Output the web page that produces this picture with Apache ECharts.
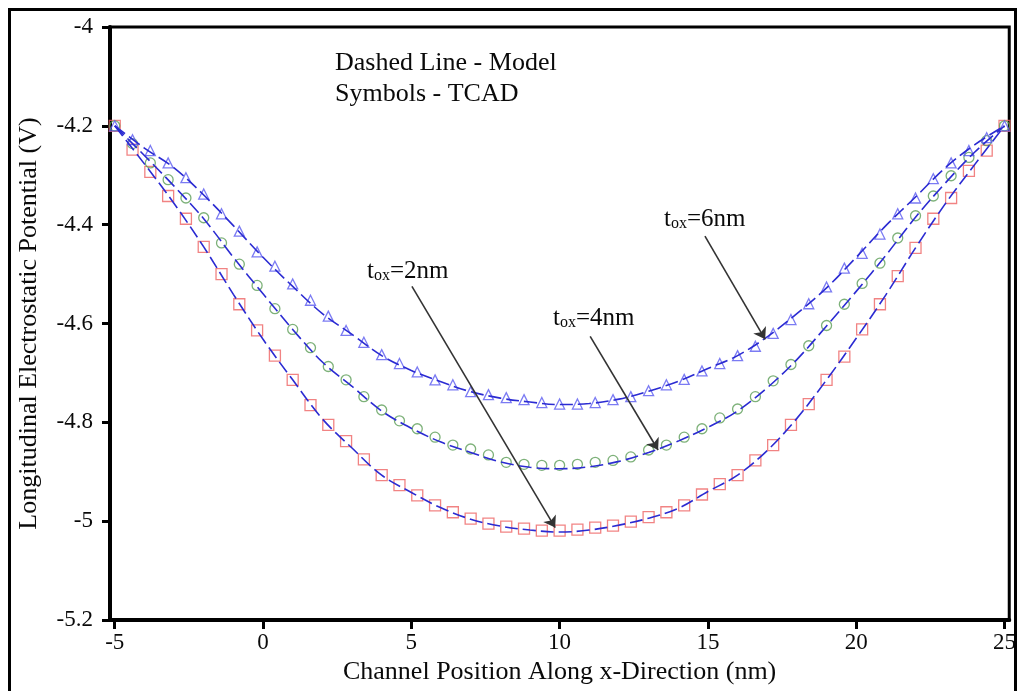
<!DOCTYPE html>
<html>
<head>
<meta charset="utf-8">
<script src="https://cdn.jsdelivr.net/npm/echarts@6/dist/echarts.min.js"></script>
<style>
  html, body { margin: 0; padding: 0; background: #fff; }
  #chart { width: 1019px; height: 691px; }
</style>
</head>
<body>
<div id="chart"></div>
<script>
// Channel positions (nm) of the TCAD samples
const xTcad = [-5, -4.4, -3.8, -3.2, -2.6, -2, -1.4, -0.8, -0.2, 0.4,
  1, 1.6, 2.2, 2.8, 3.4, 4, 4.6, 5.2, 5.8, 6.4,
  7, 7.6, 8.2, 8.8, 9.4, 10, 10.6, 11.2, 11.8, 12.4,
  13, 13.6, 14.2, 14.8, 15.4, 16, 16.6, 17.2, 17.8, 18.4,
  19, 19.6, 20.2, 20.8, 21.4, 22, 22.6, 23.2, 23.8, 24.4, 25];

// TCAD potential (V)
const tcadTox2 = [-4.200, -4.248, -4.293, -4.342, -4.388, -4.445, -4.500, -4.561, -4.614, -4.665,
  -4.714, -4.765, -4.805, -4.838, -4.875, -4.907, -4.927, -4.948, -4.968, -4.982,
  -4.995, -5.005, -5.011, -5.015, -5.019, -5.019, -5.017, -5.013, -5.009, -5.001,
  -4.992, -4.982, -4.968, -4.946, -4.925, -4.907, -4.877, -4.846, -4.805, -4.763,
  -4.714, -4.667, -4.612, -4.561, -4.504, -4.447, -4.388, -4.346, -4.291, -4.250, -4.200];
const tcadTox4 = [-4.200, -4.236, -4.275, -4.309, -4.346, -4.386, -4.437, -4.480, -4.523, -4.570,
  -4.612, -4.649, -4.687, -4.714, -4.748, -4.775, -4.797, -4.813, -4.830, -4.846,
  -4.854, -4.866, -4.881, -4.885, -4.887, -4.887, -4.885, -4.881, -4.877, -4.870,
  -4.856, -4.846, -4.830, -4.813, -4.791, -4.773, -4.748, -4.716, -4.683, -4.645,
  -4.604, -4.561, -4.519, -4.478, -4.427, -4.382, -4.342, -4.301, -4.264, -4.230, -4.200];
const tcadTox6 = [-4.200, -4.228, -4.250, -4.275, -4.305, -4.338, -4.378, -4.413, -4.455, -4.484,
  -4.520, -4.553, -4.585, -4.614, -4.638, -4.663, -4.681, -4.698, -4.714, -4.724,
  -4.738, -4.744, -4.750, -4.754, -4.760, -4.763, -4.763, -4.760, -4.754, -4.748,
  -4.736, -4.724, -4.713, -4.696, -4.681, -4.665, -4.646, -4.620, -4.592, -4.560,
  -4.526, -4.488, -4.458, -4.419, -4.378, -4.346, -4.307, -4.275, -4.250, -4.224, -4.200];

// Analytical model, sampled every 1 nm
const xModel = [-5, -4, -3, -2, -1, 0, 1, 2, 3, 4, 5, 6, 7, 8, 9, 10,
  11, 12, 13, 14, 15, 16, 17, 18, 19, 20, 21, 22, 23, 24, 25];
const modelTox2 = [-4.200, -4.277, -4.357, -4.445, -4.541, -4.632, -4.714, -4.793, -4.852, -4.907,
  -4.942, -4.973, -4.996, -5.010, -5.018, -5.022, -5.018, -5.008, -4.994, -4.974,
  -4.940, -4.907, -4.857, -4.792, -4.714, -4.630, -4.542, -4.447, -4.358, -4.278, -4.200];
const modelTox4 = [-4.200, -4.260, -4.322, -4.388, -4.466, -4.540, -4.612, -4.678, -4.727, -4.777,
  -4.812, -4.840, -4.861, -4.880, -4.891, -4.894, -4.890, -4.879, -4.861, -4.838,
  -4.810, -4.777, -4.730, -4.673, -4.605, -4.535, -4.462, -4.385, -4.316, -4.253, -4.200];
const modelTox6 = [-4.200, -4.245, -4.285, -4.340, -4.402, -4.466, -4.525, -4.580, -4.622, -4.665,
  -4.695, -4.718, -4.738, -4.751, -4.759, -4.764, -4.762, -4.753, -4.737, -4.717,
  -4.691, -4.665, -4.627, -4.580, -4.528, -4.466, -4.402, -4.344, -4.285, -4.238, -4.200];

// Axis ticks
const xTicks = [-5, 0, 5, 10, 15, 20, 25];

// Arrow annotations: [start, end] in data units
const arrows = [
  { label: '2nm', from: [5.02, -4.525], to: [9.85, -5.013] },
  { label: '4nm', from: [11.03, -4.626], to: [13.32, -4.856] },
  { label: '6nm', from: [14.90, -4.423], to: [16.93, -4.632] }
];

const zip = (xs, ys) => xs.map((x, i) => [x, ys[i]]);
const SERIF = "'Liberation Serif', 'Times New Roman', 'DejaVu Serif', serif";
const MODEL_BLUE = '#2b2bd2';
const INK = '#0a0a0a';

function modelSeries(name, ys) {
  return {
    name: name, type: 'line', data: zip(xModel, ys),
    smooth: 0.35, showSymbol: false, z: 3,
    lineStyle: { color: MODEL_BLUE, width: 1.6, type: [13, 5] }
  };
}
function tcadSeries(name, ys, symbol, color, size) {
  return {
    name: name, type: 'scatter', data: zip(xTcad, ys),
    symbol: symbol, symbolSize: size, z: 2,
    itemStyle: { color: 'rgba(255,255,255,0)', borderColor: color, borderWidth: 1.3 }
  };
}

const arrowLine = {
  name: 'arrows', type: 'line', data: [], silent: true,
  markLine: {
    silent: true, animation: false,
    symbol: ['none', 'arrow'], symbolSize: 11,
    label: { show: false },
    lineStyle: { color: '#333', width: 1.6, type: 'solid' },
    data: arrows.map(a => [{ coord: a.from }, { coord: a.to }])
  }
};

function toxLabel(text, left, midY) {
  return {
    type: 'text', x: left, y: midY, z: 10,
    style: {
      text: '{m|t}{s|ox}{m|' + text + '}',
      verticalAlign: 'middle', fill: INK,
      rich: {
        m: { fontFamily: SERIF, fontSize: 25, lineHeight: 26, verticalAlign: 'middle', fill: INK },
        s: { fontFamily: SERIF, fontSize: 16, lineHeight: 16, verticalAlign: 'bottom', fill: INK }
      }
    }
  };
}

const chart = echarts.init(document.getElementById('chart'));
chart.setOption({
  animation: false,
  backgroundColor: '#fff',
  grid: {
    left: 110, right: 8, top: 27, bottom: 71,
    show: true, borderColor: '#000', borderWidth: 3, backgroundColor: 'transparent'
  },
  xAxis: {
    type: 'value', min: -5.16, max: 25.16,
    name: 'Channel Position Along x-Direction (nm)',
    nameLocation: 'middle', nameGap: 33,
    nameTextStyle: { fontFamily: SERIF, fontSize: 26, color: INK },
    axisLine: { show: true, onZero: false, lineStyle: { color: '#000', width: 4 } },
    axisTick: { show: true, inside: false, length: 9, customValues: xTicks, lineStyle: { color: '#000', width: 3 } },
    axisLabel: { customValues: xTicks, margin: 11, fontFamily: SERIF, fontSize: 23, color: INK },
    splitLine: { show: false }
  },
  yAxis: {
    type: 'value', min: -5.2, max: -4, interval: 0.2,
    name: 'Longitudinal Electrostatic Potential (V)',
    nameLocation: 'middle', nameGap: 68, nameRotate: 90,
    nameTextStyle: { fontFamily: SERIF, fontSize: 26, color: INK },
    axisLine: { show: true, onZero: false, lineStyle: { color: '#000', width: 4 } },
    axisTick: { show: true, inside: false, length: 8, lineStyle: { color: '#000', width: 3 } },
    axisLabel: { margin: 17, fontFamily: SERIF, fontSize: 23, color: INK },
    splitLine: { show: false }
  },
  series: [
    tcadSeries('TCAD tox=2nm', tcadTox2, 'rect', '#ee6464', 11),
    tcadSeries('TCAD tox=4nm', tcadTox4, 'circle', '#5c9e58', 10),
    tcadSeries('TCAD tox=6nm', tcadTox6, 'triangle', '#5a5af0', 10),
    modelSeries('Model tox=2nm', modelTox2),
    modelSeries('Model tox=4nm', modelTox4),
    modelSeries('Model tox=6nm', modelTox6),
    arrowLine
  ],
  graphic: [
    {
      type: 'rect', z: 20, silent: true,
      shape: { x: 9.5, y: 9.5, width: 1006, height: 700 },
      style: { fill: 'none', stroke: '#000', lineWidth: 3 }
    },
    {
      type: 'text', x: 335, y: 63, z: 10,
      style: { text: 'Dashed Line - Model', fontFamily: SERIF, fontSize: 26, fill: INK, verticalAlign: 'middle' }
    },
    {
      type: 'text', x: 335, y: 94, z: 10,
      style: { text: 'Symbols - TCAD', fontFamily: SERIF, fontSize: 26, fill: INK, verticalAlign: 'middle' }
    },
    toxLabel('=' + arrows[0].label, 367, 271),
    toxLabel('=' + arrows[1].label, 553, 318),
    toxLabel('=' + arrows[2].label, 664, 219)
  ]
});
</script>
</body>
</html>
